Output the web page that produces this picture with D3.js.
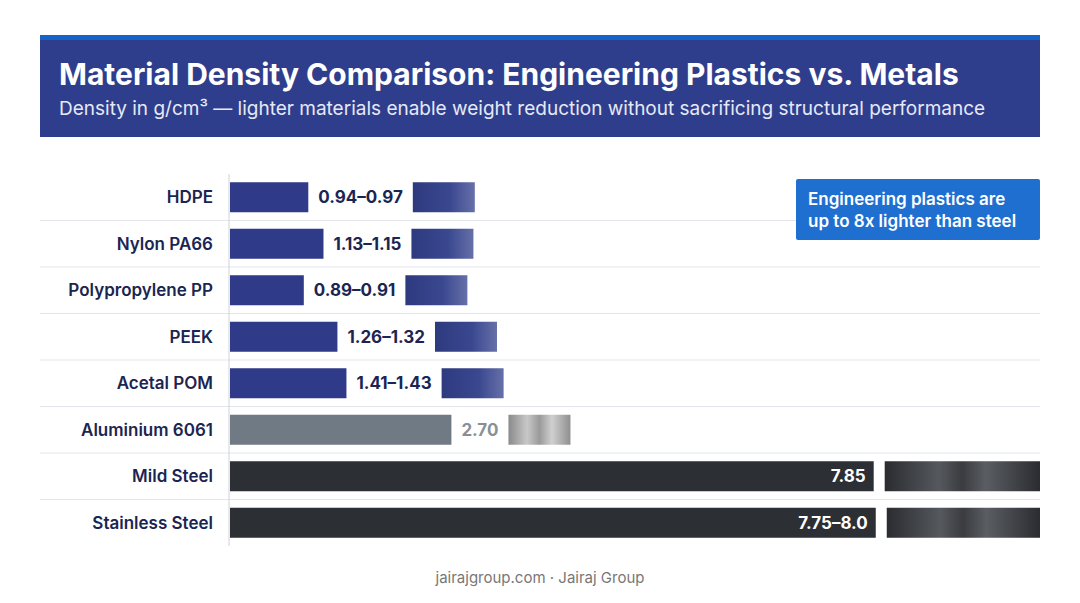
<!DOCTYPE html>
<html><head><meta charset="utf-8">
<script src="https://cdn.jsdelivr.net/npm/d3@7"></script>
<style>body{margin:0;background:#fff;font-family:Inter,"Noto Sans",sans-serif}</style>
</head><body><svg id="chart" width="1080" height="603"></svg>
<script>
// data
const materials = ["HDPE", "Nylon PA66", "Polypropylene PP", "PEEK", "Acetal POM", "Aluminium 6061", "Mild Steel", "Stainless Steel"];
const densities = [0.955, 1.14, 0.90, 1.31, 1.42, 2.70, 7.85, 7.875];
const valueLabels = ["0.94–0.97", "1.13–1.15", "0.89–0.91", "1.26–1.32", "1.41–1.43", "2.70", "7.85", "7.75–8.0"];
const kinds = ["plastic", "plastic", "plastic", "plastic", "plastic", "alu", "steel", "steel"];

const svg = d3.select("#chart");
const defs = svg.append("defs");

// swatch gradients
function grad(id, stops) {
    let g = defs.append("linearGradient").attr("id", id);
    stops.forEach(s => g.append("stop").attr("offset", s[0]).attr("stop-color", s[1]));
}
grad("g-plastic", [[0, "#2e3a7e"], [0.6, "#3a4890"], [1, "#6670a8"]]);
grad("g-alu", [[0, "#8a8a8a"], [0.3, "#c8c8c8"], [0.5, "#9a9a9a"], [0.7, "#d0d0d0"], [1, "#8f8f8f"]]);
grad("g-steel", [[0, "#2a2c30"], [0.35, "#55585d"], [0.5, "#3a3c40"], [0.65, "#5a5d62"], [1, "#2a2c30"]]);

const barColor = {plastic: "#2f3b88", alu: "#6f7a84", steel: "#2c2f34"};

// header
svg.append("rect").attr("x", 40).attr("y", 35).attr("width", 1000).attr("height", 102).attr("fill", "#2f3e8c");
svg.append("rect").attr("x", 40).attr("y", 35).attr("width", 1000).attr("height", 5).attr("fill", "#1565c8");
svg.append("text").attr("x", 59).attr("y", 85).attr("fill", "#fff").attr("font-size", 30).attr("font-weight", 700)
    .text("Material Density Comparison: Engineering Plastics vs. Metals");
svg.append("text").attr("x", 59).attr("y", 115).attr("fill", "#e6e9f5").attr("font-size", 19)
    .text("Density in g/cm³ — lighter materials enable weight reduction without sacrificing structural performance");

// scales
const x0 = 230, maxW = 735;
const x = d3.scaleLinear().domain([0, 1]).range([0, 82]);
const y = d3.scaleBand().domain(materials).range([174, 546]).paddingInner(0).paddingOuter(0);
const bh = 30;

// separators
materials.slice(0, -1).forEach(m => {
    svg.append("line").attr("x1", 40).attr("x2", 1040)
        .attr("y1", y(m) + y.bandwidth()).attr("y2", y(m) + y.bandwidth())
        .attr("stroke", "#e3e5ea").attr("stroke-width", 1);
});
svg.append("line").attr("x1", x0 - 1).attr("x2", x0 - 1).attr("y1", 174).attr("y2", 546)
    .attr("stroke", "#cfd2d8");

materials.forEach((m, i) => {
    const cy = y(m) + y.bandwidth() / 2;
    const w = Math.min(x(densities[i]), maxW);
    const k = kinds[i];
    svg.append("text").attr("x", 213).attr("y", cy + 6).attr("text-anchor", "end")
        .attr("font-size", 17).attr("font-weight", 600).attr("fill", "#1b2552").text(m);
    svg.append("rect").attr("x", x0).attr("y", cy - bh / 2).attr("width", w).attr("height", bh)
        .attr("fill", barColor[k]);
    if (k === "steel") {
        svg.append("text").attr("x", x0 + w - 8).attr("y", cy + 6).attr("text-anchor", "end")
            .attr("font-size", 17).attr("font-weight", 700).attr("fill", "#fff").text(valueLabels[i]);
        svg.append("rect").attr("x", x0 + w + 11).attr("y", cy - bh / 2).attr("width", 1040 - (x0 + w + 11))
            .attr("height", bh).attr("fill", "url(#g-steel)");
    } else {
        const t = svg.append("text").attr("x", x0 + w + 10).attr("y", cy + 6)
            .attr("font-size", 17).attr("font-weight", 700)
            .attr("fill", k === "alu" ? "#8a8f96" : "#1b2552").text(valueLabels[i]);
        const tw = t.node().getComputedTextLength();
        svg.append("rect").attr("x", x0 + w + 10 + tw + 10).attr("y", cy - bh / 2).attr("width", 62)
            .attr("height", bh).attr("fill", k === "alu" ? "url(#g-alu)" : "url(#g-plastic)");
    }
});

// callout
svg.append("rect").attr("x", 796).attr("y", 179).attr("width", 244).attr("height", 61).attr("rx", 2).attr("fill", "#1f6fd1");
svg.append("text").attr("x", 808).attr("y", 205).attr("fill", "#fff").attr("font-size", 17).attr("font-weight", 600)
    .text("Engineering plastics are");
svg.append("text").attr("x", 808).attr("y", 227).attr("fill", "#fff").attr("font-size", 17).attr("font-weight", 600)
    .text("up to 8x lighter than steel");

// footer
svg.append("text").attr("x", 540).attr("y", 583).attr("text-anchor", "middle").attr("fill", "#777")
    .attr("font-size", 15).text("jairajgroup.com · Jairaj Group");
</script></body></html>
